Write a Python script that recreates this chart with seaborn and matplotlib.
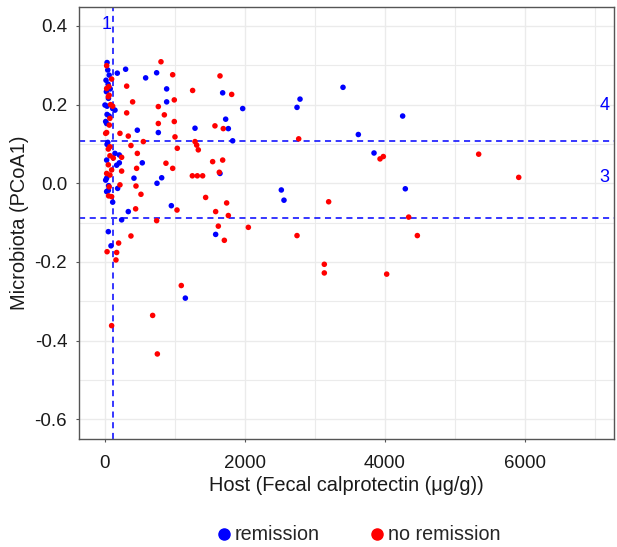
import matplotlib
matplotlib.use('Agg')
import matplotlib.pyplot as plt
from matplotlib.lines import Line2D
import numpy as np
import pandas as pd
import seaborn as sns

# remission (blue) points: fecal calprotectin vs PCoA1
remission_x = [30, 40, 60, 15, 45, 75, 20, 50, 0, 30, 110, 143, 30, 60, 10, 24, 40, 30,
               24, 10, 24, 52, 24, 48, 110, 48, 86,
               176, 295, 738, 581, 881, 881, 143, 205, 205, 167, 533, 462, 762, 1286,
               1724, 1762, 1824, 1681, 1967, 1643, 810, 414, 743, 181, 238, 333, 948,
               1581, 1148, 2786, 2743, 3400, 3619, 4252, 3843, 2519, 2557, 4290]
remission_y = [0.307, 0.288, 0.275, 0.262, 0.252, 0.240, 0.233, 0.216, 0.199, 0.196, 0.190,
               0.186, 0.175, 0.171, 0.157, 0.152, 0.104, 0.099, 0.059, 0.008, 0.013, -0.006,
               -0.021, -0.018, -0.048, -0.123, -0.159,
               0.280, 0.290, 0.281, 0.268, 0.240, 0.207, 0.076, 0.072, 0.052, 0.046, 0.052,
               0.135, 0.129, 0.140, 0.163, 0.139, 0.108, 0.230, 0.190, 0.025, 0.014, 0.013,
               0.000, -0.013, -0.093, -0.072, -0.057, -0.130, -0.292, 0.214, 0.193, 0.244,
               0.124, 0.171, 0.077, -0.017, -0.043, -0.014]

# no remission (red) points
noremission_x = [24, 95, 24, 48, 110, 55, 60, 80, 62, 70, 24, 10, 71, 71, 119, 48, 48, 95,
                 24, 71, 60, 52, 95, 30, 167, 157, 195, 95,
                 800, 967, 1643, 310, 1252, 1810, 395, 990, 762, 310, 848, 762, 990, 1571,
                 1690, 214, 333, 1000, 548, 1286, 1310, 371, 1033, 1333, 462, 238, 871,
                 1538, 1681, 452, 967, 238, 1248, 1319, 1395, 1633, 214, 443, 514, 1438,
                 438, 1029, 738, 1738, 1581, 1762, 1619, 1705, 2048, 371, 681, 748, 1090,
                 2767, 3929, 3976, 5338, 5910, 3195, 4338, 4462, 2743, 3133, 3133, 4024]
noremission_y = [0.299, 0.265, 0.241, 0.220, 0.196, 0.246, 0.224, 0.200, 0.148, 0.165, 0.129,
                 0.127, 0.093, 0.070, 0.064, 0.087, 0.047, 0.034, 0.025, 0.021, -0.009, -0.032,
                 -0.034, -0.174, -0.176, -0.195, -0.152, -0.362,
                 0.309, 0.276, 0.273, 0.247, 0.236, 0.226, 0.207, 0.212, 0.195, 0.179, 0.174,
                 0.152, 0.157, 0.146, 0.139, 0.127, 0.120, 0.118, 0.106, 0.106, 0.097, 0.096,
                 0.089, 0.085, 0.076, 0.066, 0.051, 0.055, 0.059, 0.038, 0.038, 0.031, 0.019,
                 0.019, 0.019, 0.028, -0.004, -0.007, -0.028, -0.036, -0.065, -0.068, -0.095,
                 -0.050, -0.072, -0.082, -0.109, -0.145, -0.112, -0.134, -0.336, -0.434,
                 -0.260, 0.113, 0.062, 0.068, 0.074, 0.015, -0.047, -0.086, -0.133, -0.133,
                 -0.206, -0.228, -0.231]

groups = ['remission', 'no remission']
group_colors = ['#0000ff', '#ff0000']

# cut-offs drawn as dashed lines and region labels
cut_x = 120
cut_y = [0.1075, -0.089]
region_labels = ['1', '4', '3']

df = pd.DataFrame({
    'fc': remission_x + noremission_x,
    'pcoa1': remission_y + noremission_y,
    'group': ['remission'] * len(remission_x) + ['no remission'] * len(noremission_x),
})

sns.set_theme(style='whitegrid')
plt.rcParams['font.family'] = ['Liberation Sans', 'DejaVu Sans']
plt.rcParams['axes.unicode_minus'] = False

fig = plt.figure(figsize=(6.17, 5.47), dpi=100)
ax = fig.add_axes([79 / 617, 1 - 439.3 / 547, (614 - 79) / 617, (439.3 - 6.7) / 547])

sns.scatterplot(data=df, x='fc', y='pcoa1', hue='group', hue_order=groups,
                palette=group_colors, s=16, linewidth=0, legend=False, ax=ax, zorder=3)

# dashed cut-off lines
ax.axvline(cut_x, color='#0000ff', ls=(0, (4, 3)), lw=1.1, zorder=2)
for yy in cut_y:
    ax.axhline(yy, color='#0000ff', ls=(0, (4, 3)), lw=1.1, zorder=2)

ax.text(24, 0.405, region_labels[0], color='#0000ff', fontsize=13, ha='center', va='center')
ax.text(7130, 0.199, region_labels[1], color='#0000ff', fontsize=13, ha='center', va='center')
ax.text(7130, 0.015, region_labels[2], color='#0000ff', fontsize=13, ha='center', va='center')

ax.set_xlim(-371, 7271)
ax.set_ylim(-0.651, 0.449)
ax.set_xticks([0, 2000, 4000, 6000])
ax.set_xticks([1000, 3000, 5000, 7000], minor=True)
ax.set_yticks([-0.6, -0.4, -0.2, 0.0, 0.2, 0.4])
ax.set_yticks([-0.5, -0.3, -0.1, 0.1, 0.3], minor=True)
ax.set_yticklabels(['-0.6', '-0.4', '-0.2', '0.0', '0.2', '0.4'])

ax.grid(which='major', color='#ebebeb', lw=1.0)
ax.grid(which='minor', color='#ebebeb', lw=0.8)
ax.set_axisbelow(True)
for sp in ax.spines.values():
    sp.set_color('#555555')
    sp.set_linewidth(1.0)
ax.tick_params(which='major', length=2.5, width=0.8, color='#555555',
               labelsize=13.5, labelcolor='#1a1a1a')
ax.tick_params(axis='x', which='major', pad=9, bottom=True)
ax.tick_params(axis='y', which='major', pad=6, left=True)
ax.tick_params(which='minor', length=0)

ax.set_xlabel('Host (Fecal calprotectin (μg/g))', fontsize=14.4, color='#1a1a1a', labelpad=3)
ax.set_ylabel('Microbiota (PCoA1)', fontsize=14.4, color='#1a1a1a', labelpad=4)

handles = [Line2D([], [], ls='', marker='o', markersize=8, color=c, label=g)
           for g, c in zip(groups, group_colors)]
fig.legend(handles=handles, loc='center', bbox_to_anchor=(0.579, 0.022), ncol=2,
           frameon=False, fontsize=14.2, handletextpad=0.05, columnspacing=2.4,
           handlelength=1.0)

fig.savefig('out.png', dpi=100)
